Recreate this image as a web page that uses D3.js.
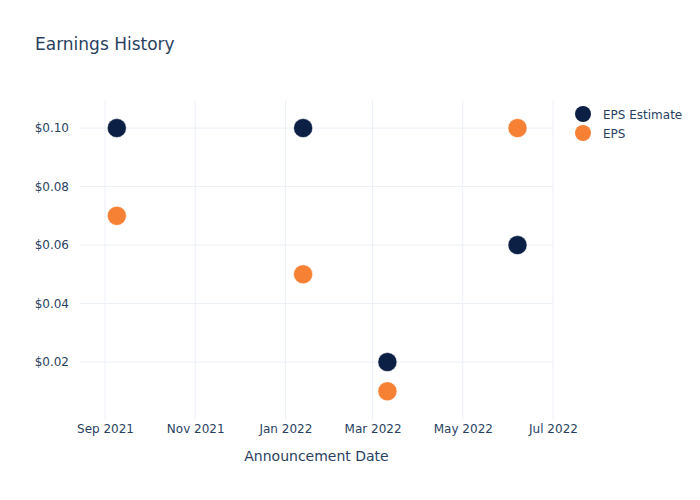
<!DOCTYPE html>
<html><head><meta charset="utf-8">
<script src="https://cdn.jsdelivr.net/npm/d3@7"></script>
<style>body{margin:0;background:#fff;}</style>
</head><body><div id="chart"></div>
<script>
const dates = ["2021-09-09","2022-01-13","2022-03-11","2022-06-07"];
const epsEstimate = [0.10, 0.10, 0.02, 0.06];
const eps = [0.07, 0.05, 0.01, 0.10];
const yTicks = [0.02, 0.04, 0.06, 0.08, 0.10];
const xTicks = ["2021-09-01","2021-11-01","2022-01-01","2022-03-01","2022-05-01","2022-07-01"];
const seriesNames = ["EPS Estimate","EPS"];
const colors = ["#0c1f44","#f68034"];

const W=700,H=500, L=80, R=553, T=100, B=420;
const FONT = "'DejaVu Sans',Verdana,sans-serif";
const parse = d3.utcParse("%Y-%m-%d");
const svg = d3.select("#chart").append("svg").attr("width",W).attr("height",H);
const txt = "#2a3f5f";

const x = d3.scaleUtc().domain([new Date(Date.UTC(2021,7,15,2)), parse("2022-07-01")]).range([L,R]);
const y = d3.scaleLinear().domain([0.0002,0.1096]).range([B,T]);

// gridlines
svg.append("g").selectAll("line").data(xTicks).join("line")
  .attr("x1",d=>x(parse(d))).attr("x2",d=>x(parse(d))).attr("y1",T).attr("y2",B)
  .attr("stroke","#ebf0f8").attr("stroke-width",1);
svg.append("g").selectAll("line").data(yTicks).join("line")
  .attr("x1",L).attr("x2",R).attr("y1",d=>y(d)).attr("y2",d=>y(d))
  .attr("stroke","#ebf0f8").attr("stroke-width",1);

// axes
const fmtX = d3.utcFormat("%b %Y");
const xAxis = d3.axisBottom(x).tickValues(xTicks.map(parse)).tickFormat(fmtX).tickSize(0).tickPadding(4);
const gx = svg.append("g").attr("transform",`translate(0,${B})`).call(xAxis);
gx.select(".domain").remove();
gx.selectAll("text").attr("fill",txt).attr("font-size",12).attr("font-family",FONT);

const yAxis = d3.axisLeft(y).tickValues(yTicks).tickFormat(d=>"$"+d.toFixed(2)).tickSize(0).tickPadding(11);
const gy = svg.append("g").attr("transform",`translate(${L},0)`).call(yAxis);
gy.select(".domain").remove();
gy.selectAll("text").attr("fill",txt).attr("font-size",12).attr("font-family",FONT);

// points
[epsEstimate, eps].forEach((vals,i)=>{
  svg.append("g").selectAll("circle").data(vals).join("circle")
    .attr("cx",(d,j)=>x(parse(dates[j]))).attr("cy",d=>y(d)).attr("r",9.5)
    .attr("fill",colors[i]).attr("stroke","#ffffff").attr("stroke-width",0.5);
});

// title
svg.append("text").attr("x",35).attr("y",50).text("Earnings History")
  .attr("fill",txt).attr("font-size",17).attr("font-family",FONT);
// axis title
svg.append("text").attr("x",(L+R)/2).attr("y",461).attr("text-anchor","middle").text("Announcement Date")
  .attr("fill",txt).attr("font-size",14).attr("font-family",FONT);

// legend
const lg = svg.append("g");
seriesNames.forEach((n,i)=>{
  lg.append("circle").attr("cx",583).attr("cy",114+i*19).attr("r",8).attr("fill",colors[i]);
  lg.append("text").attr("x",603).attr("y",118.5+i*19).text(n).attr("fill",txt)
    .attr("font-size",12).attr("font-family",FONT);
});
</script></body></html>
